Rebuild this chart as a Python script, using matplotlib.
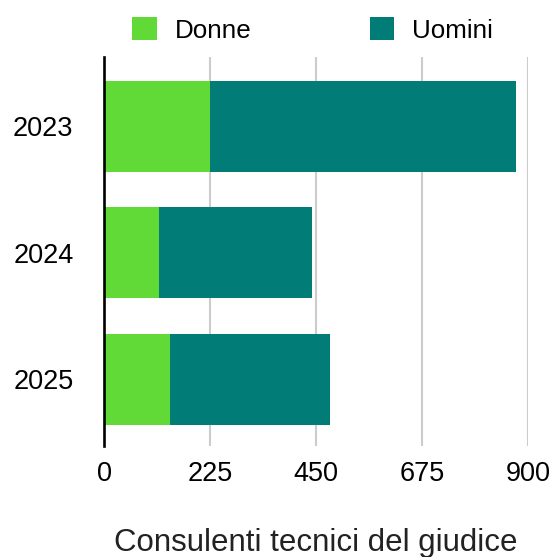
import matplotlib
matplotlib.use("Agg")
import matplotlib.pyplot as plt

plt.rcParams['font.family'] = ['Liberation Sans', 'DejaVu Sans']

# dati
anni = ["2023", "2024", "2025"]
donne = [225, 117, 140]
uomini = [650, 324, 339]
ticks_x = [0, 225, 450, 675, 900]

verde = "#61DA37"
teal = "#017C76"

fig = plt.figure(figsize=(5.51, 5.57), dpi=100)
ax = fig.add_axes([104 / 551, 1 - 446 / 557, (528 - 104) / 551, (446 - 57) / 557])

y = list(range(len(anni)))
ax.barh(y, donne, height=0.72, color=verde, label="Donne", zorder=2)
ax.barh(y, uomini, left=donne, height=0.72, color=teal, label="Uomini", zorder=2)

ax.set_xlim(0, 900)
ax.set_ylim(2.53, -0.55)
ax.set_xticks(ticks_x)
ax.set_yticks(y)
ax.set_yticklabels(anni)
ax.tick_params(axis='both', length=0, labelsize=19.5)
ax.tick_params(axis='x', pad=11)
ax.tick_params(axis='y', pad=22)

# griglia verticale
ax.grid(axis='x', color='#CCCCCC', linewidth=1.5, zorder=0)
ax.grid(axis='y', visible=False)
for s in ['top', 'right', 'bottom']:
    ax.spines[s].set_visible(False)
ax.spines['left'].set_linewidth(1.9)
ax.spines['left'].set_zorder(3)

ax.set_xlabel("Consulenti tecnici del giudice", fontsize=22.5, color='#222222', labelpad=29)

fig.legend(loc='center left', bbox_to_anchor=(132 / 551, 1 - 30 / 557), ncol=2,
           frameon=False, fontsize=18.7, handlelength=0.96, handleheight=0.96,
           handletextpad=0.68, columnspacing=4.55, borderpad=0, borderaxespad=0)

fig.savefig("out.png", dpi=100)
